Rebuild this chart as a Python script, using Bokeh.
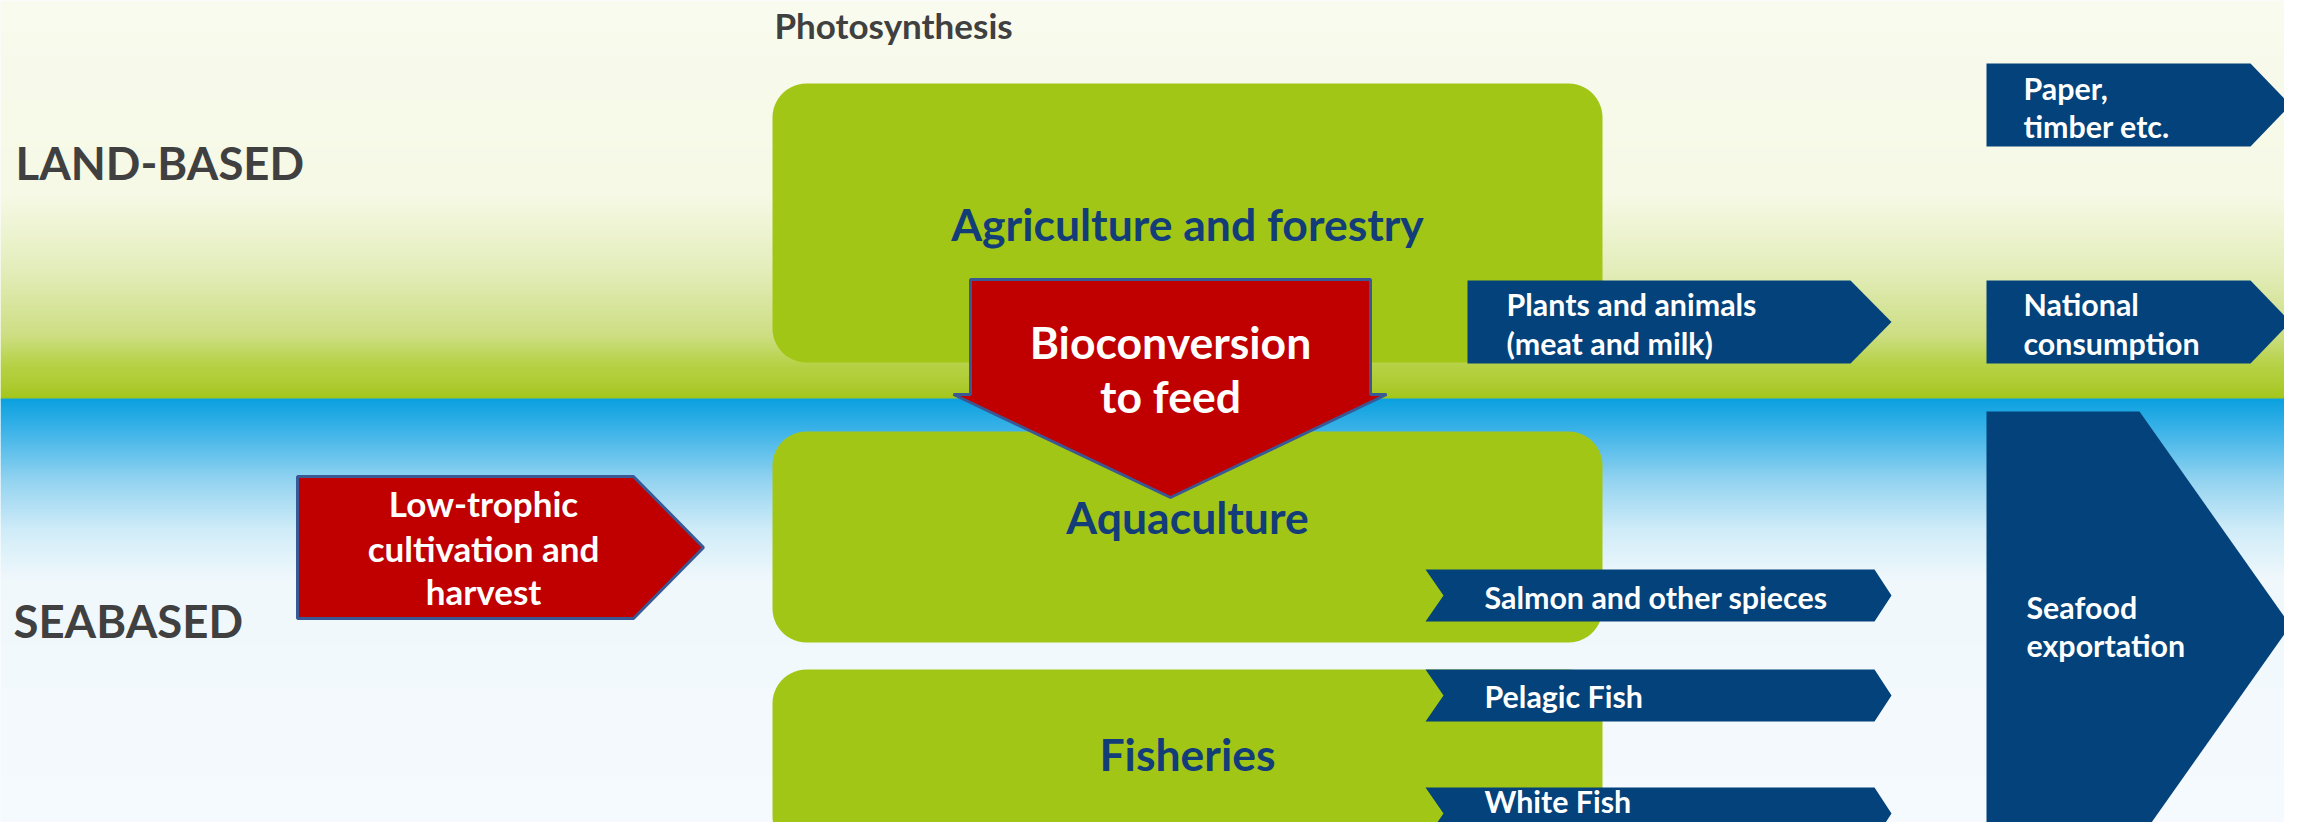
import numpy as np
from bokeh.plotting import figure
from bokeh.models import Range1d
from bokeh.core.properties import value
from bokeh.embed import file_html
from bokeh.resources import INLINE

# ---------------- content ----------------
title_label = "Photosynthesis"
region_labels = ["LAND-BASED", "SEABASED"]
box_labels = ["Agriculture and forestry", "Aquaculture", "Fisheries"]
feed_lines = ["Bioconversion", "to feed"]
lowtrophic_lines = ["Low-trophic", "cultivation and", "harvest"]
land_products = [["Plants and animals", "(meat and milk)"], ["Paper,", "timber etc."], ["National", "consumption"]]
export_lines = ["Seafood", "exportation"]
sea_products = ["Salmon and other spieces", "Pelagic Fish", "White Fish"]

# ---------------- layout (reference pixel space, 1:1 with the screen) ----------------
PW, PH = 2284, 822

land_stops = [(0, "#F8FBEE"), (195, "#F6F9E5"), (270, "#E3EDBA"), (335, "#CCDE82"),
              (365, "#B6D145"), (385, "#ADCB30"), (399, "#A2C518")]
sea_stops = [(398, "#0AA0E0"), (430, "#3CB3E8"), (480, "#93D3F0"), (530, "#D0ECF8"),
             (580, "#F0F8FC"), (840, "#F6FAFE")]

box_x = (772, 1602)
box_tops = [83, 431, 669]
box_bottoms = [362, 642, 850]
box_radius = 34

GREEN = "#A2C616"
RED = "#C00000"
BLUE = "#03427A"
NAVY_TEXT = "#123D78"
GRAY = "#404040"
RED_EDGE = "#3A5894"


def hex2rgb(h):
    h = h.lstrip("#")
    return np.array([int(h[i:i + 2], 16) for i in (0, 2, 4)], dtype=float)


def rgb2hex(c):
    return "#%02x%02x%02x" % tuple(int(round(v)) for v in c)


def gradient_strips(stops, step=2):
    ys = [s[0] for s in stops]
    cols = [hex2rgb(s[1]) for s in stops]
    tops, bots, colors = [], [], []
    y = ys[0]
    while y < ys[-1]:
        yc = y + step / 2
        c = np.array([np.interp(yc, ys, [cc[k] for cc in cols]) for k in range(3)])
        tops.append(y)
        bots.append(min(y + step + 0.8, ys[-1]))
        colors.append(rgb2hex(c))
        y += step
    return tops, bots, colors


def rounded_rect(x0, x1, y0, y1, r, n=14):
    xs, ys = [], []
    corners = [(x1 - r, y0 + r, -np.pi / 2, 0), (x1 - r, y1 - r, 0, np.pi / 2),
               (x0 + r, y1 - r, np.pi / 2, np.pi), (x0 + r, y0 + r, np.pi, 1.5 * np.pi)]
    for cx, cy, a0, a1 in corners:
        t = np.linspace(a0, a1, n)
        xs.extend(cx + r * np.cos(t))
        ys.extend(cy + r * np.sin(t))
    return xs, ys


def pentagon(x0, xr, xt, y0, y1):
    ym = (y0 + y1) / 2
    return [x0, xr, xt, xr, x0], [y0, y0, ym, y1, y1]


def chevron(x0, xn, xr, xt, y0, y1):
    ym = (y0 + y1) / 2
    return [x0, xr, xt, xr, x0, xn], [y0, y0, ym, y1, y1, ym]


def down_arrow(xl, xr, yt, yn, wl, wr, yb):
    xc = (xl + xr) / 2
    return [xl, xr, xr, wr, xc, wl, xl], [yt, yt, yn, yn, yb, yn, yn]


p = figure(width=PW, height=PH,
           x_range=Range1d(0, PW), y_range=Range1d(PH, 0),
           output_backend="svg", toolbar_location=None, min_border=0)
p.axis.visible = False
p.xgrid.grid_line_color = None
p.ygrid.grid_line_color = None
p.outline_line_color = None
p.background_fill_color = "#F6FAFE"
p.border_fill_color = "white"

# background gradients
for stops in (land_stops, sea_stops):
    t, b, c = gradient_strips(stops)
    p.quad(left=0, right=2300, top=t, bottom=b, fill_color=c, line_color=None)

# green rounded boxes
bx, by = [], []
for t, b in zip(box_tops, box_bottoms):
    xs, ys = rounded_rect(box_x[0], box_x[1], t, b, box_radius)
    bx.append(xs)
    by.append(ys)
p.patches(bx, by, fill_color=GREEN, line_color=None)

# blue product arrows
land_geo = [(1467, 1850, 1891, 280, 363), (1986, 2250, 2290, 63, 146), (1986, 2250, 2290, 280, 363)]
px, py = [], []
for g in land_geo:
    xs, ys = pentagon(*g)
    px.append(xs)
    py.append(ys)
xs, ys = pentagon(1986, 2139, 2290, 411, 839)
px.append(xs)
py.append(ys)
sea_geo = [(569, 621), (669, 721), (787, 839)]
for y0, y1 in sea_geo:
    xs, ys = chevron(1425, 1443, 1874, 1891, y0, y1)
    px.append(xs)
    py.append(ys)
p.patches(px, py, fill_color=BLUE, line_color=None)

# red arrows
rx, ry = [], []
xs, ys = pentagon(297, 633, 703, 476, 618)
rx.append(xs)
ry.append(ys)
xs, ys = down_arrow(970, 1370, 279, 394, 953, 1386, 497)
rx.append(xs)
ry.append(ys)
p.patches(rx, ry, fill_color=RED, line_color=RED_EDGE, line_width=3)


def add_text(xs, ys, texts, size, color, align):
    p.text(x=xs, y=ys, text=texts, text_font=value("Lato"), text_font_style="bold",
           text_font_size=value("%.1fpx" % size), text_color=color,
           text_align=align, text_baseline="middle")


add_text([774], [24], [title_label], 35, GRAY, "left")
add_text([15, 13], [162, 620], region_labels, 45.5, GRAY, "left")
add_text([1187, 1187, 1187], [223, 516, 753], box_labels, 44.5, NAVY_TEXT, "center")
add_text([1170, 1170], [341, 395], feed_lines, 44.5, "white", "center")
add_text([483, 483, 483], [502, 547, 590], lowtrophic_lines, 35, "white", "center")

lx, ly, lt = [], [], []
for (x_left, yy), lines in zip([(1506, (303, 342)), (2023, (87, 125)), (2023, (303, 342))], land_products):
    for y, s in zip(yy, lines):
        lx.append(x_left)
        ly.append(y)
        lt.append(s)
for y, s in zip((606, 644), export_lines):
    lx.append(2026)
    ly.append(y)
    lt.append(s)
for y, s in zip((596, 695, 800), sea_products):
    lx.append(1484)
    ly.append(y)
    lt.append(s)
add_text(lx, ly, lt, 30.4, "white", "left")

open("out.html", "w").write(file_html(p, INLINE))
